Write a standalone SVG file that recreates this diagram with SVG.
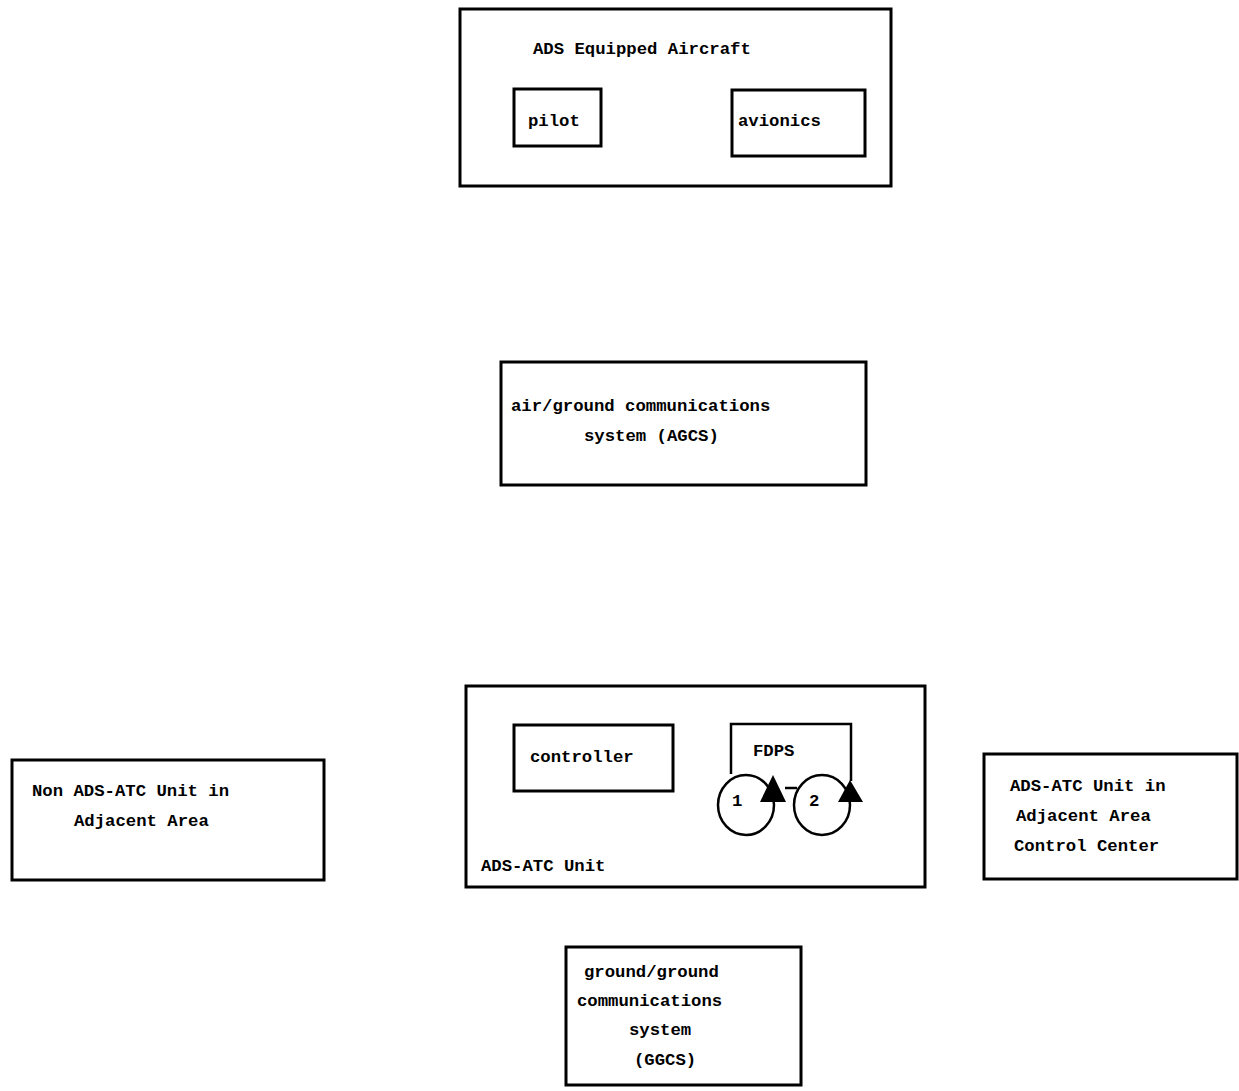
<svg xmlns="http://www.w3.org/2000/svg" width="1239" height="1091" viewBox="0 0 1239 1091">
  <style>
    .box { fill: none; stroke: #000; stroke-width: 3; }
    .ln { fill: none; stroke: #000; stroke-width: 2.5; }
    .t { font-family: "Liberation Mono", "DejaVu Sans Mono", monospace; font-weight: bold; font-size: 17.3px; fill: #000; }
  </style>
  <rect width="1239" height="1091" fill="#fff"/>

  <g id="aircraft">
    <rect class="box" x="460" y="9" width="431" height="177"/>
    <text class="t" x="533" y="54">ADS Equipped Aircraft</text>
    <g id="pilot">
      <rect class="box" x="514" y="89" width="87" height="57"/>
      <text class="t" x="528" y="126">pilot</text>
    </g>
    <g id="avionics">
      <rect class="box" x="732" y="90" width="133" height="66"/>
      <text class="t" x="738" y="126">avionics</text>
    </g>
  </g>

  <g id="agcs">
    <rect class="box" x="501" y="362" width="365" height="123"/>
    <text class="t" x="511" y="411">air/ground communications</text>
    <text class="t" x="584" y="441">system (AGCS)</text>
  </g>

  <g id="ads-atc-unit">
    <rect class="box" x="466" y="686" width="459" height="201"/>
    <text class="t" x="481" y="871">ADS-ATC Unit</text>
    <g id="controller">
      <rect class="box" x="514" y="725" width="159" height="66"/>
      <text class="t" x="530" y="762">controller</text>
    </g>
    <g id="fdps">
      <path class="ln" d="M731,774 V724 H851 V781"/>
      <text class="t" x="753" y="756">FDPS</text>
      <g id="fdps-1">
        <ellipse class="ln" cx="746" cy="805" rx="28" ry="30"/>
        <polygon points="773,775 760,802 786,802" fill="#000"/>
        <text class="t" x="732" y="806">1</text>
      </g>
      <g id="fdps-2">
        <ellipse class="ln" cx="822" cy="805" rx="28" ry="30"/>
        <polygon points="850,780 838,802 863,802" fill="#000"/>
        <text class="t" x="809" y="806">2</text>
      </g>
    </g>
  </g>

  <g id="non-ads-atc">
    <rect class="box" x="12" y="760" width="312" height="120"/>
    <text class="t" x="32" y="796">Non ADS-ATC Unit in</text>
    <text class="t" x="74" y="826">Adjacent Area</text>
  </g>

  <g id="ads-atc-adjacent">
    <rect class="box" x="984" y="754" width="253" height="125"/>
    <text class="t" x="1010" y="791">ADS-ATC Unit in</text>
    <text class="t" x="1016" y="821">Adjacent Area</text>
    <text class="t" x="1014" y="851">Control Center</text>
  </g>

  <g id="ggcs">
    <rect class="box" x="566" y="947" width="235" height="138"/>
    <text class="t" x="584" y="977">ground/ground</text>
    <text class="t" x="577" y="1006">communications</text>
    <text class="t" x="629" y="1035">system</text>
    <text class="t" x="634" y="1065">(GGCS)</text>
  </g>

  <g id="connectors">
    <line class="ln" x1="785" y1="788" x2="797" y2="788"/>
  </g>
</svg>
